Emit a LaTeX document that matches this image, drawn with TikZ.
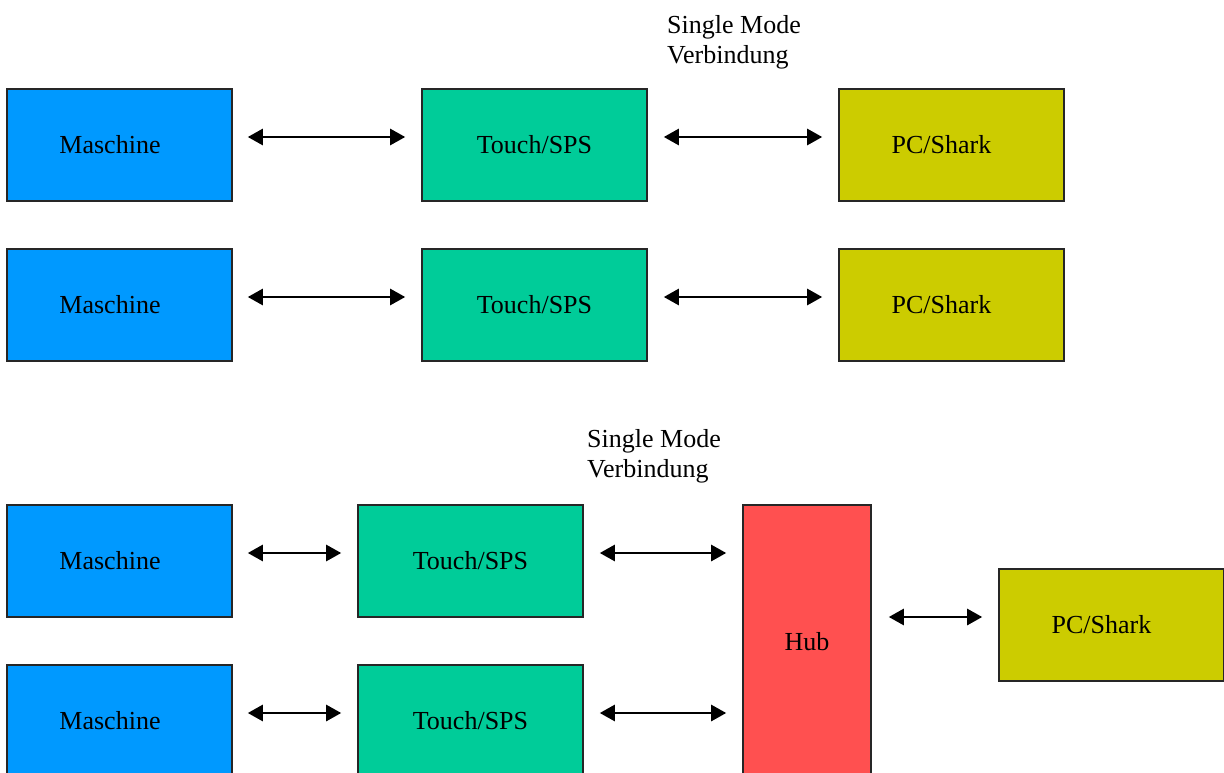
\documentclass[tikz,border=0pt]{standalone}
\usepackage{fontspec}
\setmainfont{Liberation Serif}
\usetikzlibrary{arrows.meta}
\definecolor{cblue}{HTML}{0099FF}
\definecolor{cgreen}{HTML}{00CC99}
\definecolor{cyellow}{HTML}{CCCC00}
\definecolor{cred}{HTML}{FF5050}
\begin{document}
\begin{tikzpicture}[x=1pt,y=-1pt,
  box/.style={draw=black!85,line width=1.6pt,minimum width=225pt,minimum height=112pt,inner sep=0pt,
    font=\fontsize{26}{30}\selectfont},
  mach/.style={box,fill=cblue},
  touch/.style={box,fill=cgreen},
  pcbox/.style={box,fill=cyellow},
  hubbox/.style={box,fill=cred,minimum width=128pt,minimum height=280pt},
  arr/.style={line width=2.6pt,{Triangle[length=15pt,width=16pt]}-{Triangle[length=15pt,width=16pt]}},
  lbl/.style={font=\fontsize{26}{30}\selectfont,align=left,anchor=north west,inner sep=0pt}]
\useasboundingbox (0,0) rectangle (1224,773);
% row 1
\node[mach,label={[xshift=-9.5pt,font=\fontsize{26}{30}\selectfont]center:Maschine}] (m1) at (119.5,145) {};
\node[touch] (t1) at (534.5,145) {Touch/SPS};
\node[pcbox,label={[xshift=-10pt,font=\fontsize{26}{30}\selectfont]center:PC/Shark}] (p1) at (951.5,145) {};
% row 2
\node[mach,label={[xshift=-9.5pt,font=\fontsize{26}{30}\selectfont]center:Maschine}] (m2) at (119.5,305) {};
\node[touch] (t2) at (534.5,305) {Touch/SPS};
\node[pcbox,label={[xshift=-10pt,font=\fontsize{26}{30}\selectfont]center:PC/Shark}] (p2) at (951.5,305) {};
% label top
\node[lbl] (sm1) at (667,15) {Single Mode\\Verbindung};
% row 3/4
\node[mach,label={[xshift=-9.5pt,font=\fontsize{26}{30}\selectfont]center:Maschine}] (m3) at (119.5,561) {};
\node[touch] (t3) at (470.5,561) {Touch/SPS};
\node[mach,label={[xshift=-9.5pt,font=\fontsize{26}{30}\selectfont]center:Maschine}] (m4) at (119.5,721) {};
\node[touch] (t4) at (470.5,721) {Touch/SPS};
\node[hubbox,label={[yshift=3pt,font=\fontsize{26}{30}\selectfont]center:Hub}] (hub) at (807,645) {};
\node[pcbox,label={[xshift=-10pt,font=\fontsize{26}{30}\selectfont]center:PC/Shark}] (p3) at (1111.5,625) {};
\node[lbl] (sm2) at (587,429) {Single Mode\\Verbindung};
% arrows
\draw[arr,shorten <=15pt,shorten >=16pt] ([yshift=8pt]m1.east) -- ([yshift=8pt]t1.west);
\draw[arr,shorten <=16pt,shorten >=16pt] ([yshift=8pt]t1.east) -- ([yshift=8pt]p1.west);
\draw[arr,shorten <=15pt,shorten >=16pt] ([yshift=8pt]m2.east) -- ([yshift=8pt]t2.west);
\draw[arr,shorten <=16pt,shorten >=16pt] ([yshift=8pt]t2.east) -- ([yshift=8pt]p2.west);
\draw[arr,shorten <=15pt,shorten >=16pt] ([yshift=8pt]m3.east) -- ([yshift=8pt]t3.west);
\draw[arr,shorten <=15pt,shorten >=16pt] ([yshift=8pt]m4.east) -- ([yshift=8pt]t4.west);
\coordinate (h3) at (t3.east -| hub.west);
\coordinate (h4) at (t4.east -| hub.west);
\coordinate (hp) at (p3.west -| hub.east);
\draw[arr,shorten <=16pt,shorten >=16pt] ([yshift=8pt]t3.east) -- ([yshift=8pt]h3);
\draw[arr,shorten <=16pt,shorten >=16pt] ([yshift=8pt]t4.east) -- ([yshift=8pt]h4);
\draw[arr,shorten <=17pt,shorten >=16pt] ([yshift=8pt]hp) -- ([yshift=8pt]p3.west);
\end{tikzpicture}
\end{document}
